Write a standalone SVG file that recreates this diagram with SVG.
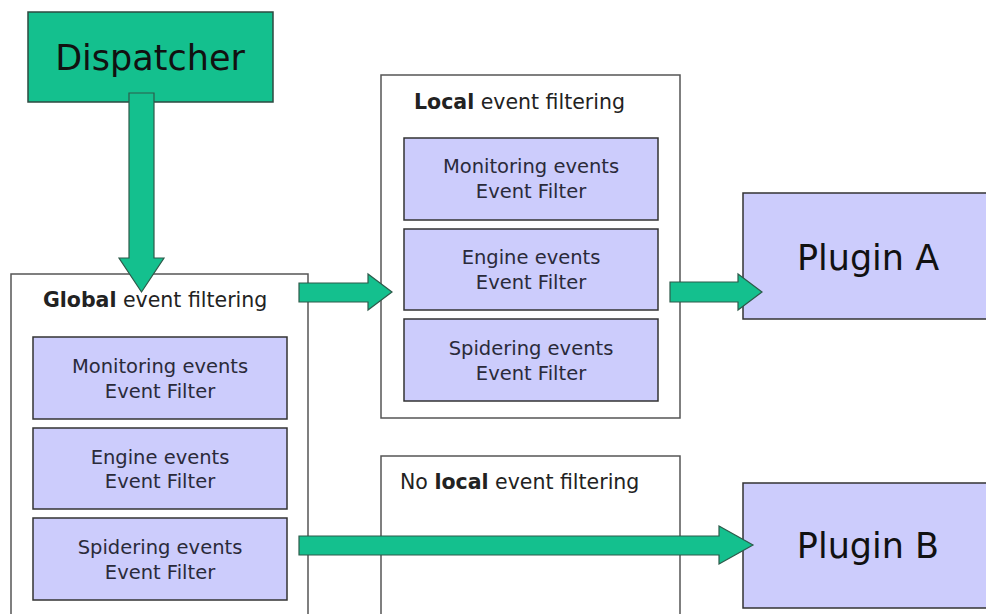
<svg xmlns="http://www.w3.org/2000/svg" width="986" height="614" viewBox="0 0 986 614">
<style>
.cont{fill:#fff;stroke:#555;stroke-width:1.5}
.filt{fill:#ccccfc;stroke:#333;stroke-width:1.5}
.plug{fill:#ccccfc;stroke:#333;stroke-width:1.5}
.green{fill:#14c08e;stroke:#2d5a4a;stroke-width:1.2}
.ft{font-family:"DejaVu Sans",Verdana,sans-serif;font-size:19.5px;fill:#2a2a3a;text-anchor:middle}
.tt{font-family:"DejaVu Sans",Verdana,sans-serif;font-size:20.5px;fill:#222}
.big{font-family:"DejaVu Sans",Verdana,sans-serif;font-size:35px;fill:#111;text-anchor:middle}
</style>
<rect width="986" height="614" fill="#fff"/>
<g id="global">
<rect class="cont" x="11" y="274" width="297" height="350"/>
<text class="tt" x="43" y="307"><tspan font-weight="bold">Global</tspan> event filtering</text>
</g>
<g id="local">
<rect class="cont" x="381" y="75" width="299" height="343"/>
<text class="tt" x="414" y="109"><tspan font-weight="bold">Local</tspan> event filtering</text>
</g>
<g id="nolocal">
<rect class="cont" x="381" y="456" width="299" height="170"/>
<text class="tt" x="400" y="489">No <tspan font-weight="bold">local</tspan> event filtering</text>
</g>
<g id="dispatcher">
<rect x="28" y="12" width="245" height="90" fill="#14c08e" stroke="#2d4a40" stroke-width="1.5"/>
<text class="big" x="150" y="70">Dispatcher</text>
</g>
<g id="g-monitoring">
<rect class="filt" x="33" y="337" width="254" height="82"/>
<text class="ft" x="160" y="373">Monitoring events</text>
<text class="ft" x="160" y="398">Event Filter</text>
</g>
<g id="g-engine">
<rect class="filt" x="33" y="428" width="254" height="81"/>
<text class="ft" x="160" y="464">Engine events</text>
<text class="ft" x="160" y="488">Event Filter</text>
</g>
<g id="g-spidering">
<rect class="filt" x="33" y="518" width="254" height="82"/>
<text class="ft" x="160" y="554">Spidering events</text>
<text class="ft" x="160" y="579">Event Filter</text>
</g>
<g id="l-monitoring">
<rect class="filt" x="404" y="138" width="254" height="82"/>
<text class="ft" x="531" y="173">Monitoring events</text>
<text class="ft" x="531" y="198">Event Filter</text>
</g>
<g id="l-engine">
<rect class="filt" x="404" y="229" width="254" height="81"/>
<text class="ft" x="531" y="264">Engine events</text>
<text class="ft" x="531" y="289">Event Filter</text>
</g>
<g id="l-spidering">
<rect class="filt" x="404" y="319" width="254" height="82"/>
<text class="ft" x="531" y="355">Spidering events</text>
<text class="ft" x="531" y="380">Event Filter</text>
</g>
<g id="pluginA">
<rect class="plug" x="743" y="193" width="250" height="126"/>
<text class="big" x="868" y="270">Plugin A</text>
</g>
<g id="pluginB">
<rect class="plug" x="743" y="483" width="250" height="125"/>
<text class="big" x="868" y="558">Plugin B</text>
</g>
<g id="connectors">
<polygon class="green" points="129,93 154,93 154,258 164,258 141.5,292 119,258 129,258"/>
<polygon class="green" points="299,283 368,283 368,274 392,292 368,310 368,302 299,302"/>
<polygon class="green" points="670,282 738,282 738,274 762,292 738,310 738,302 670,302"/>
<polygon class="green" points="299,536 719,536 719,526 753,545 719,564 719,555 299,555"/>
</g>
</svg>
